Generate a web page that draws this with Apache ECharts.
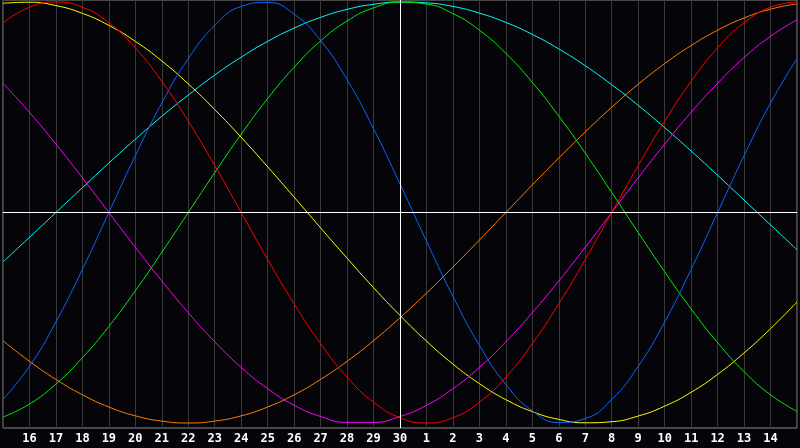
<!DOCTYPE html>
<html>
<head>
<meta charset="utf-8">
<script src="https://cdn.jsdelivr.net/npm/echarts@6/dist/echarts.min.js"></script>
<style>
  html, body { margin: 0; padding: 0; background: #050509; }
  #chart { width: 800px; height: 448px; }
</style>
</head>
<body>
<div id="chart"></div>
<script>
// day labels, one per gridline (first and last are edges, not labelled)
var days = ['15', '16', '17', '18', '19', '20', '21', '22', '23', '24', '25', '26', '27', '28', '29', '30',
  '1', '2', '3', '4', '5', '6', '7', '8', '9', '10', '11', '12', '13', '14', '15'];

// cycle values in percent, read at each day gridline
var physical = [-88.8, -73.1, -52.0, -27.0, 0, 27.0, 52.0, 73.1, 88.8, 97.9, 99.8, 94.2, 81.7, 63.1, 39.8, 13.6,
  -13.6, -39.8, -63.1, -81.7, -94.2, -99.8, -97.9, -88.8, -73.1, -52.0, -27.0, 0, 27.0, 52.0, 73.1];
var emotional = [90.1, 97.5, 100, 97.5, 90.1, 78.2, 62.3, 43.4, 22.3, 0, -22.3, -43.4, -62.3, -78.2, -90.1, -97.5,
  -100, -97.5, -90.1, -78.2, -62.3, -43.4, -22.3, 0, 22.3, 43.4, 62.3, 78.2, 90.1, 97.5, 100];
var intellectual = [-97.2, -91.0, -81.5, -69.0, -54.1, -37.2, -18.9, 0, 18.9, 37.2, 54.1, 69.0, 81.5, 91.0, 97.2, 99.9,
  99.0, 94.5, 86.6, 75.6, 61.8, 45.8, 28.2, 9.5, -9.5, -28.2, -45.8, -61.8, -75.6, -86.6, -94.5];
var intuitive = [61.4, 47.6, 32.5, 16.5, 0, -16.5, -32.5, -47.6, -61.4, -73.6, -83.7, -91.6, -96.9, -99.7, -99.7, -96.9,
  -91.6, -83.7, -73.6, -61.4, -47.6, -32.5, -16.5, 0, 16.5, 32.5, 47.6, 61.4, 73.6, 83.7, 91.6];
var aesthetic = [99.4, 99.9, 98.3, 94.6, 88.9, 81.3, 72.0, 61.1, 48.9, 35.7, 21.7, 7.3, -7.3, -21.7, -35.7, -48.9,
  -61.1, -72.0, -81.3, -88.9, -94.6, -98.3, -99.9, -99.4, -96.7, -92.0, -85.4, -76.9, -66.7, -55.2, -42.5];
var awareness = [-60.9, -70.7, -79.3, -86.6, -92.4, -96.6, -99.1, -100, -99.1, -96.6, -92.4, -86.6, -79.3, -70.7, -60.9, -50.0,
  -38.3, -25.9, -13.1, 0, 13.1, 25.9, 38.3, 50.0, 60.9, 70.7, 79.3, 86.6, 92.4, 96.6, 99.1];
var spiritual = [-23.5, -11.8, 0, 11.8, 23.5, 34.8, 45.7, 55.8, 65.3, 73.8, 81.3, 87.6, 92.7, 96.5, 98.9, 100.0,
  99.6, 97.9, 94.7, 90.3, 84.6, 77.7, 69.7, 60.7, 50.9, 40.3, 29.2, 17.7, 5.9, -5.9, -17.7];

var todayIndex = 15;

function curve(name, data, color) {
  return {
    name: name,
    type: 'line',
    data: data,
    smooth: true,
    showSymbol: false,
    lineStyle: { color: color, width: 1 },
    itemStyle: { color: color }
  };
}

var chart = echarts.init(document.getElementById('chart'));
var series = [
  curve('Spiritual', spiritual, '#00ffff'),
  curve('Awareness', awareness, '#ff8000'),
  curve('Aesthetic', aesthetic, '#ffff00'),
  curve('Intuitive', intuitive, '#ff00ff'),
  curve('Intellectual', intellectual, '#00ee00'),
  curve('Physical', physical, '#0a64ff'),
  curve('Emotional', emotional, '#ff0000')
];
series[0].markLine = {
  silent: true,
  symbol: 'none',
  label: { show: false },
  lineStyle: { color: '#ffffff', width: 1, type: 'solid' },
  data: [{ yAxis: 0 }, { xAxis: todayIndex }]
};

chart.setOption({
  backgroundColor: '#050509',
  animation: false,
  grid: {
    left: 0, right: 0, top: 0, bottom: 20,
    show: true,
    borderColor: '#8a8a8a',
    borderWidth: 1,
    backgroundColor: 'transparent'
  },
  xAxis: {
    type: 'category',
    data: days,
    boundaryGap: false,
    axisLine: { show: true, lineStyle: { color: '#8a8a8a', width: 1 } },
    axisTick: { show: false },
    axisLabel: {
      interval: 0,
      color: '#ffffff',
      fontFamily: 'DejaVu Sans Mono',
      fontWeight: 'bold',
      fontSize: 12,
      margin: 5,
      formatter: function (v, i) {
        return (i === 0 || i === days.length - 1) ? '' : v;
      }
    },
    splitLine: { show: true, interval: 0, lineStyle: { color: '#3a3a3a', width: 1 } }
  },
  yAxis: {
    type: 'value',
    min: -102.38,
    max: 100.95,
    show: false,
    splitLine: { show: false }
  },
  series: series
});
</script>
</body>
</html>
